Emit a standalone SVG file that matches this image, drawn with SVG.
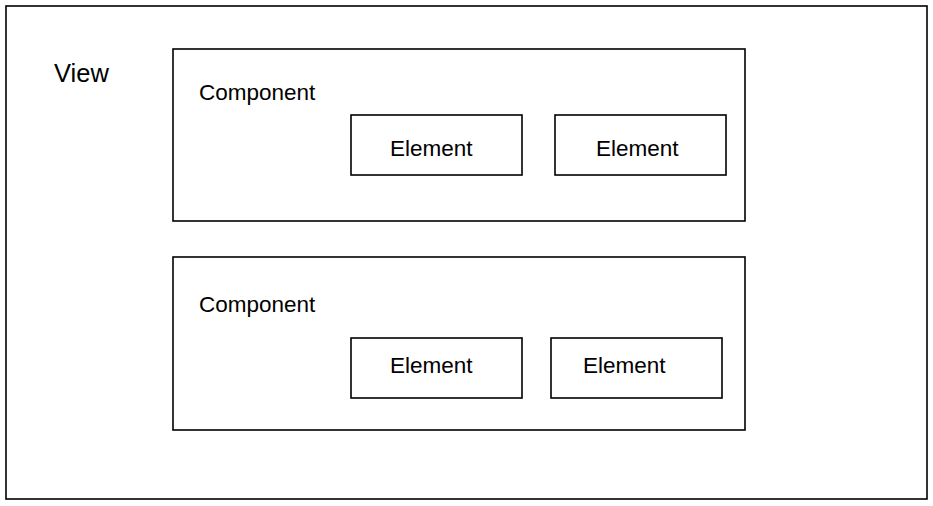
<svg xmlns="http://www.w3.org/2000/svg" width="933" height="506" viewBox="0 0 933 506">
<style>
rect.box{fill:#fff;stroke:#000;stroke-width:1.6}
text{font-family:"Liberation Sans",Arial,sans-serif;fill:#000}
.lbl{font-size:22.5px}
.view{font-size:25.5px}
</style>
<rect width="933" height="506" fill="#fff"/>
<g id="view">
<rect class="box" x="6" y="6" width="921" height="493"/>
<text class="view" x="54" y="82">View</text>
</g>
<g id="component1">
<rect class="box" x="173" y="49" width="572" height="172"/>
<text class="lbl" x="199" y="100">Component</text>
</g>
<g id="element1">
<rect class="box" x="351" y="115" width="171" height="60"/>
<text class="lbl" x="390" y="155.5">Element</text>
</g>
<g id="element2">
<rect class="box" x="555" y="115" width="171" height="60"/>
<text class="lbl" x="596" y="155.5">Element</text>
</g>
<g id="component2">
<rect class="box" x="173" y="257" width="572" height="173"/>
<text class="lbl" x="199" y="311.5">Component</text>
</g>
<g id="element3">
<rect class="box" x="351" y="338" width="171" height="60"/>
<text class="lbl" x="390" y="372.5">Element</text>
</g>
<g id="element4">
<rect class="box" x="551" y="338" width="171" height="60"/>
<text class="lbl" x="583" y="372.5">Element</text>
</g>
<g id="connectors"></g>
</svg>
